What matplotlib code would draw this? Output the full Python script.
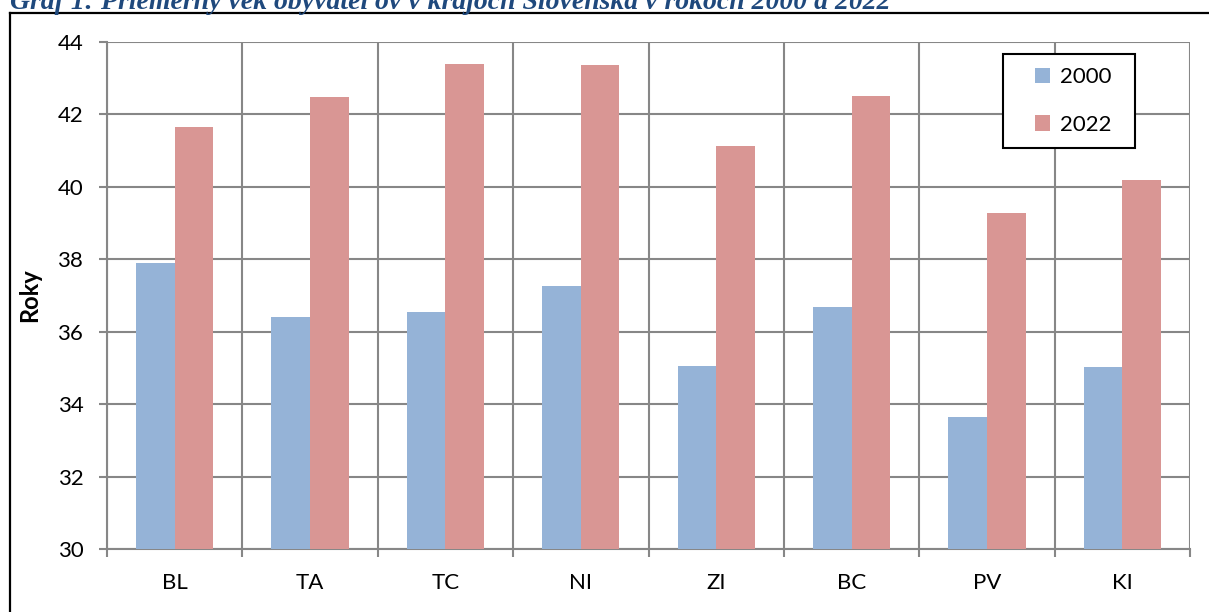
import matplotlib
matplotlib.use('Agg')
import matplotlib.pyplot as plt
import numpy as np
from matplotlib.lines import Line2D
from matplotlib.patches import Rectangle

regions = ['BL', 'TA', 'TC', 'NI', 'ZI', 'BC', 'PV', 'KI']
age_2000 = [37.89, 36.41, 36.55, 37.26, 35.05, 36.69, 33.65, 35.03]
age_2022 = [41.64, 42.48, 43.39, 43.37, 41.14, 42.51, 39.28, 40.19]
years = ['2000', '2022']

title = 'Graf 1: Priemerný vek obyvateľov v krajoch Slovenska v rokoch 2000 a 2022'

plt.rcParams['font.family'] = ['Lato', 'DejaVu Sans']

fig = plt.figure(figsize=(12.09, 6.12), dpi=100)
ax = fig.add_axes([0.0885, 0.1029, 0.8958, 0.8285])

x = np.arange(len(regions))
w = 0.285
grid_c = '#878787'
ax.bar(x - w / 2, age_2000, w, color='#95B3D7', label=years[0], zorder=3)
ax.bar(x + w / 2, age_2022, w, color='#D99694', label=years[1], zorder=3)

ax.set_ylim(30, 44)
ax.set_xlim(-0.5, len(regions) - 0.5)
ax.set_yticks(np.arange(30, 45, 2))
ax.set_xticks(x)
ax.set_xticklabels(regions)
ax.set_xticks(np.arange(-0.5, len(regions)), minor=True)

ax.grid(axis='y', color=grid_c, linewidth=1.5, zorder=0)
ax.grid(axis='x', which='minor', color=grid_c, linewidth=1.5, zorder=0)
ax.tick_params(axis='x', which='major', length=0, labelsize=16, pad=17)
ax.tick_params(axis='x', which='minor', length=6, width=1.5, color=grid_c)
ax.tick_params(axis='y', length=6, width=1.5, color=grid_c, labelsize=16, pad=11)
for s in ['top', 'right']:
    ax.spines[s].set_visible(False)
for s in ['left', 'bottom']:
    ax.spines[s].set_color(grid_c)
    ax.spines[s].set_linewidth(1.5)

ax.set_ylabel('Roky', fontsize=17, fontweight='bold', labelpad=12)

# legend box drawn separately so its padding matches the original
ax.add_patch(Rectangle((0.8273, 0.7909), 0.1219, 0.1854, transform=ax.transAxes,
                       facecolor='white', edgecolor='black', lw=1.5, zorder=5,
                       clip_on=False))
leg = ax.legend(loc='center', bbox_to_anchor=(0.892, 0.8836), fontsize=16,
                frameon=False, handlelength=0.7, handleheight=0.7, handletextpad=0.45,
                labelspacing=1.25, borderpad=0, borderaxespad=0)
leg.set_zorder(6)

# outer frame, cut off at right and bottom
fig.add_artist(Line2D([10 / 1209, 1], [1 - 12.5 / 612] * 2, color='black', lw=1.6,
                      transform=fig.transFigure))
fig.add_artist(Line2D([10 / 1209] * 2, [0, 1 - 12.5 / 612], color='black', lw=1.6,
                      transform=fig.transFigure))

fig.text(10 / 1209, 1 - 9 / 612, title, fontsize=20, fontweight='bold', fontstyle='italic',
         family='Liberation Serif', color='#1F497D', va='baseline', ha='left')

fig.savefig('out.png', dpi=100)
